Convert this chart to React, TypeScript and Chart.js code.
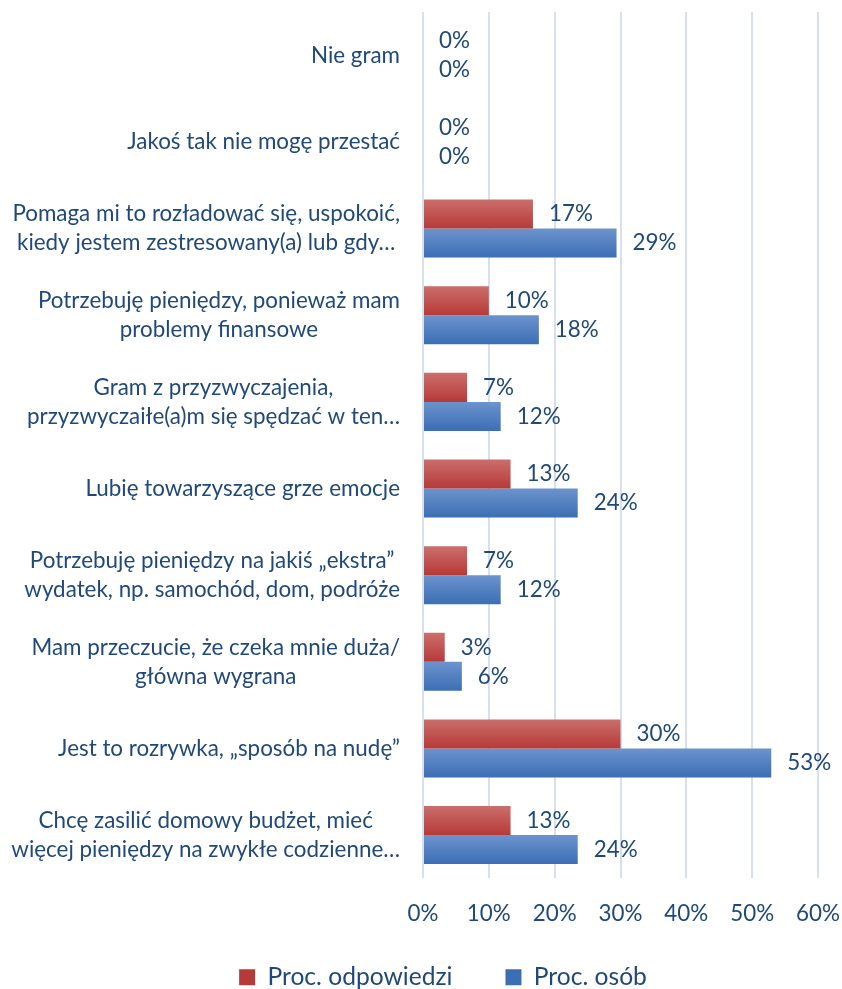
import React, { useEffect, useRef } from "react";
import { Chart, registerables } from "chart.js";

Chart.register(...registerables);

const categories: string[][] = [
  ["Nie gram"],
  ["Jakoś tak nie mogę przestać"],
  ["Pomaga mi to rozładować się, uspokoić,", "kiedy jestem zestresowany(a) lub gdy…"],
  ["Potrzebuję pieniędzy, ponieważ mam", "problemy finansowe"],
  ["Gram z przyzwyczajenia,", "przyzwyczaiłe(a)m się spędzać w ten…"],
  ["Lubię towarzyszące grze emocje"],
  ["Potrzebuję pieniędzy na jakiś „ekstra”", "wydatek, np. samochód, dom, podróże"],
  ["Mam przeczucie, że czeka mnie duża/", "główna wygrana"],
  ["Jest to rozrywka, „sposób na nudę”"],
  ["Chcę zasilić domowy budżet, mieć", "więcej pieniędzy na zwykłe codzienne…"],
];

const seriesNames = ["Proc. odpowiedzi", "Proc. osób"];
const procOdpowiedzi = [0, 0, 16.7, 10.0, 6.7, 13.3, 6.7, 3.3, 30.0, 13.3];
const procOsob = [0, 0, 29.4, 17.6, 11.8, 23.5, 11.8, 5.9, 52.9, 23.5];
const xTicks = [0, 10, 20, 30, 40, 50, 60];

const FONT = "Lato";
const FS = 22.4;
const LEGEND_FS = 24.6;
const TEXT = "#1F497D";
const CAT_PCT = 0.67;

function barGradient(top: string, bottom: string, mid: string, dsIdx: number) {
  return (ctx: any) => {
    const chart = ctx.chart;
    const ys = chart.scales && chart.scales.y;
    if (ctx.type !== "data" || !ys || !chart.chartArea) return mid;
    const c = ys.getPixelForValue(ctx.dataIndex);
    const band = Math.abs(ys.getPixelForValue(1) - ys.getPixelForValue(0));
    const h = (band * CAT_PCT) / 2;
    const y0 = dsIdx === 0 ? c - h : c;
    const g = chart.ctx.createLinearGradient(0, y0, 0, y0 + h);
    g.addColorStop(0, top);
    g.addColorStop(1, bottom);
    return g;
  };
}

const labelsPlugin = {
  id: "customLabels",
  afterLayout(chart: any) {
    // let x tick labels extend below the (short) axis box without clipping
    chart.scales.x.bottom = chart.height;
  },
  afterDraw(chart: any) {
    const ctx = chart.ctx;
    const ys = chart.scales.y;
    ctx.save();
    ctx.font = `${FS}px ${FONT}`;
    ctx.fillStyle = TEXT;
    ctx.textBaseline = "middle";
    const lh = 29;
    const right = 400;
    categories.forEach((lines, i) => {
      const cy = ys.getPixelForValue(i);
      const maxW = Math.max(...lines.map((l) => ctx.measureText(l).width));
      const cx = right - maxW / 2;
      ctx.textAlign = "center";
      lines.forEach((l, j) => {
        ctx.fillText(l, cx, cy - ((lines.length - 1) * lh) / 2 + j * lh);
      });
    });
    ctx.textAlign = "left";
    chart.data.datasets.forEach((ds: any, di: number) => {
      const meta = chart.getDatasetMeta(di);
      meta.data.forEach((el: any, i: number) => {
        const v = ds.data[i];
        ctx.fillText(`${Math.round(v)}%`, el.x + 16, el.y);
      });
    });
    ctx.restore();
  },
};

export default function App() {
  const ref = useRef<HTMLCanvasElement | null>(null);
  useEffect(() => {
    if (!ref.current) return;
    const chart = new Chart(ref.current, {
      type: "bar",
      data: {
        labels: categories.map((c) => c.join(" ")),
        datasets: [
          {
            label: seriesNames[0],
            data: procOdpowiedzi,
            backgroundColor: barGradient("#CB6E6C", "#B63A37", "#C0504D", 0),
            borderWidth: 0,
            categoryPercentage: CAT_PCT,
            barPercentage: 1,
          },
          {
            label: seriesNames[1],
            data: procOsob,
            backgroundColor: barGradient("#6C93CD", "#3C6EB4", "#4F81BD", 1),
            borderWidth: 0,
            categoryPercentage: CAT_PCT,
            barPercentage: 1,
          },
        ],
      },
      options: {
        indexAxis: "y",
        responsive: false,
        animation: false,
        layout: { padding: { top: 12, right: 0, left: 44, bottom: -10.5 } },
        plugins: {
          tooltip: { enabled: false },
          legend: {
            position: "bottom",
            labels: {
              font: { family: FONT, size: LEGEND_FS },
              color: TEXT,
              boxWidth: 16,
              boxHeight: 16,
              padding: 53,
            },
          },
        },
        scales: {
          x: {
            min: 0,
            max: 60,
            afterBuildTicks: (s: any) => {
              s.ticks = xTicks.map((v) => ({ value: v }));
            },
            afterFit: (s: any) => {
              s.height = 33.5;
              s.paddingRight = 24;
              s.paddingLeft = 0;
            },
            ticks: {
              callback: (v: any) => `${v}%`,
              font: { family: FONT, size: FS },
              color: TEXT,
              padding: 22,
            },
            grid: { color: "#D6E0F0", lineWidth: 2, drawTicks: false },
            border: { display: false },
          },
          y: {
            ticks: { display: false },
            afterFit: (s: any) => {
              s.width = 379;
            },
            grid: { display: false },
            border: { display: false },
          },
        },
      },
      plugins: [labelsPlugin],
    });
    return () => chart.destroy();
  }, []);
  return (
    <div style={{ position: "absolute", left: 0, top: 0, width: 842, height: 989, background: "#fff" }}>
      <canvas ref={ref} width={842} height={989} />
    </div>
  );
}
